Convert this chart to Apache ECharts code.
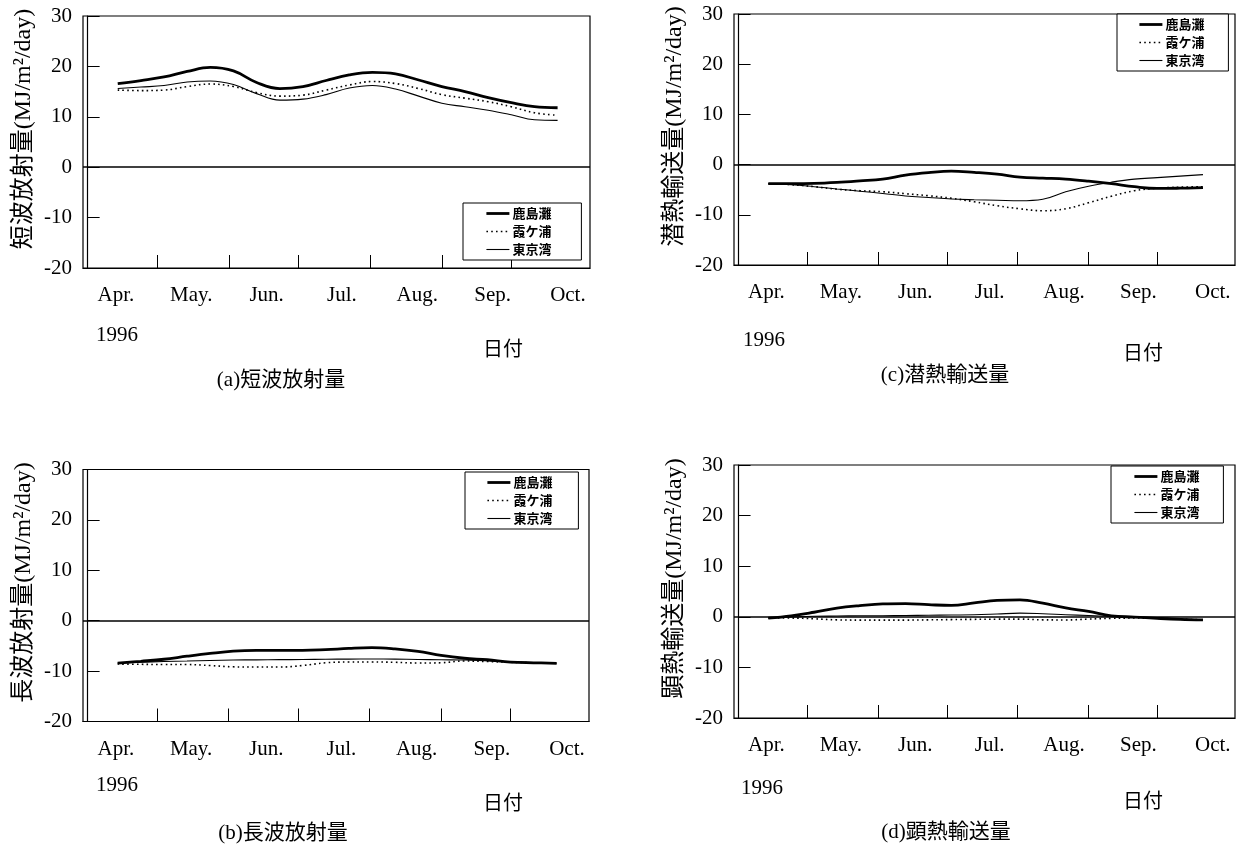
<!DOCTYPE html>
<html>
<head>
<meta charset="utf-8">
<script src="https://cdn.jsdelivr.net/npm/echarts@6/dist/echarts.min.js"></script>
<style>
  html, body { margin: 0; padding: 0; background: #fff; }
  #chart { width: 1250px; height: 850px; }
</style>
</head>
<body>
<div id="chart"></div>
<script>
// Days counted from 1 April 1996 at which each curve is sampled
const sampleDay = [13, 23, 33, 43, 53, 63, 73, 83, 93, 103, 113, 123, 133, 143, 153, 163, 173, 183, 193, 203];
// First day of May .. October (tick positions on the date axis)
const monthStartDay = [30, 61, 91, 122, 153, 183];
const monthLabels = ['Apr.', 'May.', 'Jun.', 'Jul.', 'Aug.', 'Sep.', 'Oct.'];
const yTickValues = [-20, -10, 0, 10, 20, 30];
const stationNames = ['鹿島灘', '霞ケ浦', '東京湾'];

// (a) shortwave radiation, MJ/m2/day
const shortwaveKashima = [16.6, 17.2, 17.9, 19.0, 19.8, 19.1, 16.8, 15.6, 16.0, 17.2, 18.3, 18.8, 18.5, 17.3, 16.0, 15.0, 13.8, 12.8, 12.0, 11.8];
const shortwaveKasumi  = [15.3, 15.2, 15.3, 16.0, 16.5, 16.0, 14.8, 14.1, 14.3, 15.3, 16.3, 17.0, 16.6, 15.6, 14.4, 13.7, 13.0, 12.0, 10.8, 10.3];
const shortwaveTokyo   = [15.6, 15.9, 16.2, 16.9, 17.1, 16.4, 14.6, 13.3, 13.5, 14.4, 15.7, 16.2, 15.5, 14.1, 12.7, 12.0, 11.3, 10.4, 9.4, 9.3];

// (b) longwave radiation
const longwaveKashima = [-8.4, -8.05, -7.65, -7.05, -6.5, -6.05, -5.9, -5.9, -5.9, -5.75, -5.5, -5.35, -5.6, -6.1, -6.9, -7.45, -7.75, -8.2, -8.35, -8.45];
const longwaveKasumi  = [-8.6, -8.65, -8.7, -8.7, -8.9, -9.15, -9.2, -9.2, -8.9, -8.35, -8.2, -8.2, -8.25, -8.4, -8.35, -8.0, -8.1, -8.25, -8.35, -8.45];
const longwaveTokyo   = [-8.4, -8.25, -8.1, -8.0, -7.9, -7.8, -7.77, -7.73, -7.7, -7.65, -7.62, -7.6, -7.63, -7.7, -7.75, -7.8, -7.95, -8.15, -8.3, -8.45];

// (c) latent heat flux
const latentKashima = [-3.8, -3.8, -3.75, -3.55, -3.25, -2.9, -2.1, -1.6, -1.3, -1.55, -1.9, -2.5, -2.7, -2.9, -3.3, -3.8, -4.4, -4.75, -4.7, -4.6];
const latentKasumi  = [-3.8, -4.0, -4.4, -4.9, -5.2, -5.4, -5.8, -6.2, -6.7, -7.4, -8.2, -8.8, -9.2, -8.8, -7.6, -6.3, -5.2, -4.7, -4.5, -4.4];
const latentTokyo   = [-3.8, -4.0, -4.4, -4.85, -5.3, -5.75, -6.25, -6.55, -6.85, -7.0, -7.1, -7.2, -6.9, -5.4, -4.3, -3.5, -2.9, -2.6, -2.3, -2.0];

// (d) sensible heat flux
const sensibleKashima = [-0.25, 0.2, 0.9, 1.7, 2.2, 2.55, 2.6, 2.4, 2.25, 2.75, 3.25, 3.35, 2.7, 1.75, 1.05, 0.2, -0.05, -0.3, -0.5, -0.6];
const sensibleKasumi  = [-0.25, -0.25, -0.4, -0.6, -0.65, -0.65, -0.65, -0.6, -0.55, -0.5, -0.47, -0.45, -0.6, -0.62, -0.45, -0.3, -0.25, -0.3, -0.45, -0.6];
const sensibleTokyo   = [-0.25, -0.05, 0.1, 0.15, 0.2, 0.22, 0.25, 0.3, 0.35, 0.4, 0.55, 0.72, 0.6, 0.4, 0.25, 0.05, -0.1, -0.2, -0.4, -0.6];

const FONT = "'Liberation Serif', 'Noto Sans CJK JP', serif";
const CJK = "'Noto Sans CJK JP', sans-serif";

// Panel frames and decorations
const panels = [
  { axisName: '短波放射量(MJ/m²/day)', caption: '(a)短波放射量',
    values: [shortwaveKashima, shortwaveKasumi, shortwaveTokyo],
    grid: { left: 83, top: 16, width: 507, height: 252 },
    legend: { left: 463, top: 203, padding: [4, 30, 4, 22] },
    year: [117, 335], dateLabel: [503, 348], captionPos: [281, 380] },
  { axisName: '長波放射量(MJ/m²/day)', caption: '(b)長波放射量',
    values: [longwaveKashima, longwaveKasumi, longwaveTokyo],
    grid: { left: 83, top: 469.5, width: 506, height: 252 },
    legend: { left: 465, top: 472, padding: [4, 26, 4, 21] },
    year: [117, 785], dateLabel: [503, 802], captionPos: [283, 833] },
  { axisName: '潜熱輸送量(MJ/m²/day)', caption: '(c)潜熱輸送量',
    values: [latentKashima, latentKasumi, latentTokyo],
    grid: { left: 734, top: 14, width: 501, height: 251 },
    legend: { left: 1117, top: 14, padding: [4, 24, 4, 21] },
    year: [764, 340], dateLabel: [1143, 352], captionPos: [945, 375] },
  { axisName: '顕熱輸送量(MJ/m²/day)', caption: '(d)顕熱輸送量',
    values: [sensibleKashima, sensibleKasumi, sensibleTokyo],
    grid: { left: 734, top: 465, width: 501, height: 253 },
    legend: { left: 1111, top: 466, padding: [4, 24, 4, 22] },
    year: [762, 788], dateLabel: [1143, 800], captionPos: [946, 832] }
];

// Thick solid, dotted, thin solid
const lineStyles = [
  { color: '#000', width: 2.8, type: 'solid' },
  { color: '#000', width: 1.6, type: [1.6, 3.2] },
  { color: '#000', width: 1.1, type: 'solid' }
];

const grids = [], xAxes = [], yAxes = [], series = [], legends = [], graphics = [];

panels.forEach((p, i) => {
  grids.push(Object.assign({ show: true, borderColor: '#000', borderWidth: 1.2, backgroundColor: 'transparent' }, p.grid));
  xAxes.push({
    type: 'value', gridIndex: i, min: -2, max: 217,
    axisLine: { show: true, onZero: false, lineStyle: { color: '#000', width: 1.2 } },
    axisTick: { show: true, inside: true, length: 13, customValues: monthStartDay, lineStyle: { color: '#000', width: 1 } },
    axisLabel: { show: false },
    splitLine: { show: false }
  });
  yAxes.push({
    type: 'value', gridIndex: i, min: yTickValues[0], max: yTickValues[yTickValues.length - 1], interval: 10,
    axisLine: { show: true, lineStyle: { color: '#000', width: 1.2 } },
    axisTick: { show: true, inside: true, length: 12, lineStyle: { color: '#000', width: 1 } },
    axisLabel: { color: '#000', fontFamily: FONT, fontSize: 21, margin: 11 },
    splitLine: { show: false },
    name: p.axisName, nameLocation: 'middle', nameRotate: 90, nameGap: 47,
    nameTextStyle: { color: '#000', fontFamily: FONT, fontSize: 24, padding: [0, 0, 0, 26] }
  });
  legends.push({
    data: stationNames.map((n, k) => ({ name: n, lineStyle: Object.assign({}, lineStyles[k]) })),
    orient: 'vertical', left: p.legend.left, top: p.legend.top,
    padding: p.legend.padding, itemGap: 5, itemWidth: 23, itemHeight: 14,
    borderColor: '#000', borderWidth: 1, backgroundColor: '#fff', selectedMode: false,
    itemStyle: { color: 'transparent', borderColor: 'transparent', borderWidth: 0, opacity: 0 },
    textStyle: { color: '#000', fontFamily: CJK, fontSize: 13, fontWeight: 'bold', padding: [0, 0, 0, -2] }
  });
  p.values.forEach((vals, k) => {
    const s = {
      name: stationNames[k], type: 'line', xAxisIndex: i, yAxisIndex: i,
      data: sampleDay.map((d, j) => [d, vals[j]]),
      smooth: 0.4, symbol: 'none', silent: true,
      lineStyle: lineStyles[k], itemStyle: { color: '#000' }, z: 3 - k
    };
    if (k === 0) {
      s.markLine = {
        silent: true, symbol: ['none', 'none'], label: { show: false },
        lineStyle: { color: '#000', width: 1.5, type: 'solid' },
        data: [{ yAxis: 0 }]
      };
    }
    series.push(s);
  });
  graphics.push(
    { type: 'text', style: { text: '1996', x: p.year[0], y: p.year[1], align: 'center', verticalAlign: 'middle', font: '21px ' + FONT, fill: '#000' } },
    { type: 'text', style: { text: '日付', x: p.dateLabel[0], y: p.dateLabel[1], align: 'center', verticalAlign: 'middle', font: '20px ' + CJK, fill: '#000' } },
    { type: 'text', style: { text: p.caption, x: p.captionPos[0], y: p.captionPos[1], align: 'center', verticalAlign: 'middle', font: '21px ' + FONT, fill: '#000' } }
  );
});

// Month names sit on their own category axis under each panel
panels.forEach((p, i) => {
  const g = p.grid;
  grids.push({ left: g.left - 4.7, top: g.top, width: g.width * 1.04, height: g.height, show: false });
  xAxes.push({
    type: 'category', gridIndex: 4 + i, data: monthLabels, boundaryGap: true,
    axisLine: { show: false }, axisTick: { show: false },
    axisLabel: { color: '#000', fontFamily: FONT, fontSize: 21, margin: 17, interval: 0 }
  });
  yAxes.push({ type: 'value', gridIndex: 4 + i, show: false, min: 0, max: 1 });
});

const chart = echarts.init(document.getElementById('chart'), null, { renderer: 'canvas' });
chart.setOption({
  animation: false,
  backgroundColor: '#fff',
  grid: grids,
  xAxis: xAxes,
  yAxis: yAxes,
  legend: legends,
  series: series,
  graphic: graphics
});
</script>
</body>
</html>
